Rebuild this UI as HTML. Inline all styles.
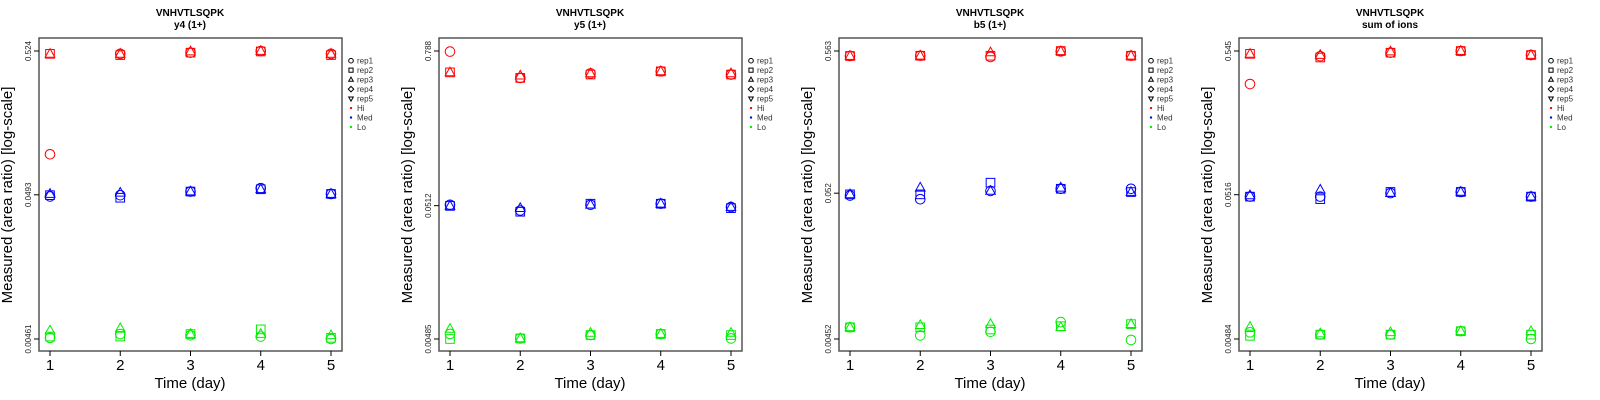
<!DOCTYPE html>
<html><head><meta charset="utf-8">
<style>
html,body{margin:0;padding:0;background:#fff;width:1600px;height:400px;overflow:hidden}
svg{display:block;font-family:"Liberation Sans",sans-serif}
</style></head>
<body>
<svg id="chart" width="1600" height="400" viewBox="0 0 1600 400"></svg>
<script>
const days = [1,2,3,4,5];
const reps = ["rep1","rep2","rep3","rep4","rep5"];
const groups = ["Hi","Med","Lo"];
const titles = ["y4 (1+)","y5 (1+)","b5 (1+)","sum of ions"];
const yTickLabels = [["0.00461","0.0493","0.524"],["0.00485","0.0512","0.788"],["0.00452","0.052","0.563"],["0.00484","0.0516","0.545"]];
const yTicks = [[0.00461,0.0493,0.524],[0.00485,0.0512,0.788],[0.00452,0.052,0.563],[0.00484,0.0516,0.545]];
// values[day][rep] (rep1..rep3)
const p1Hi = [[0.096,0.50,0.50],[0.50,0.49,0.50],[0.51,0.51,0.52],[0.524,0.52,0.524],[0.50,0.49,0.50]];
const p1Med = [[0.048,0.049,0.050],[0.049,0.047,0.051],[0.052,0.052,0.052],[0.055,0.054,0.054],[0.050,0.050,0.050]];
const p1Lo = [[0.0047,0.0048,0.0053],[0.0050,0.0048,0.0055],[0.0049,0.0050,0.0050],[0.0048,0.0054,0.0050],[0.00461,0.0047,0.0049]];
const p2Hi = [[0.78,0.54,0.54],[0.49,0.49,0.51],[0.53,0.52,0.53],[0.55,0.55,0.55],[0.52,0.52,0.53]];
const p2Med = [[0.052,0.051,0.051],[0.047,0.046,0.049],[0.052,0.053,0.052],[0.053,0.053,0.053],[0.050,0.049,0.050]];
const p2Lo = [[0.0053,0.00485,0.0058],[0.0049,0.0049,0.0049],[0.0052,0.0052,0.0054],[0.0053,0.0053,0.0053],[0.0049,0.0052,0.0054]];
const p3Hi = [[0.518,0.518,0.518],[0.52,0.52,0.52],[0.51,0.52,0.55],[0.56,0.563,0.56],[0.52,0.52,0.52]];
const p3Med = [[0.050,0.051,0.051],[0.047,0.051,0.057],[0.054,0.062,0.054],[0.056,0.056,0.057],[0.056,0.053,0.053]];
const p3Lo = [[0.0055,0.0055,0.0055],[0.0048,0.0055,0.0057],[0.0051,0.0053,0.0058],[0.0060,0.0056,0.0055],[0.00445,0.0058,0.0058]];
const p4Hi = [[0.317,0.52,0.52],[0.50,0.49,0.51],[0.53,0.53,0.54],[0.545,0.545,0.545],[0.51,0.51,0.51]];
const p4Med = [[0.050,0.050,0.051],[0.050,0.048,0.056],[0.053,0.054,0.053],[0.054,0.054,0.054],[0.050,0.050,0.050]];
const p4Lo = [[0.0054,0.0051,0.0059],[0.0052,0.0052,0.0053],[0.0052,0.0052,0.0054],[0.0055,0.0055,0.0055],[0.00484,0.0052,0.0055]];
const panelData = [[p1Hi,p1Med,p1Lo],[p2Hi,p2Med,p2Lo],[p3Hi,p3Med,p3Lo],[p4Hi,p4Med,p4Lo]];
const colors = ["#ff0000","#0000ff","#00ee00"];

const NS="http://www.w3.org/2000/svg";
const svg=document.getElementById('chart');
function mk(tag,attrs,parent,text){const e=document.createElementNS(NS,tag);for(const k in attrs)e.setAttribute(k,attrs[k]);if(text!==undefined)e.textContent=text;(parent||svg).appendChild(e);return e;}
function marker(shape,x,y,col,r,g){
  let e;
  if(shape===0) e=mk('circle',{cx:x,cy:y,r:r},g);
  else if(shape===1) e=mk('rect',{x:x-r*0.9,y:y-r*0.9,width:r*1.8,height:r*1.8},g);
  else if(shape===2) e=mk('polygon',{points:`${x},${y-r*1.1} ${x-r},${y+r*0.7} ${x+r},${y+r*0.7}`},g);
  else if(shape===3) e=mk('polygon',{points:`${x},${y-r*1.2} ${x+r*1.2},${y} ${x},${y+r*1.2} ${x-r*1.2},${y}`},g);
  else e=mk('polygon',{points:`${x},${y+r*1.1} ${x-r},${y-r*0.7} ${x+r},${y-r*0.7}`},g);
  e.setAttribute('fill','none');e.setAttribute('stroke',col);e.setAttribute('stroke-width','1');
  return e;
}
panelData.forEach((pd,pi)=>{
  const ox=pi*400;
  const g=mk('g',{transform:`translate(${ox},0)`});
  
  
  const L=39,R=342,T=38,B=351;
  const xs=d=>50+(d-1)*(331-50)/4;
  const lmin=Math.log10(yTicks[pi][0]),lmax=Math.log10(yTicks[pi][2]);
  const ys=v=>339-(Math.log10(v)-lmin)/(lmax-lmin)*(339-51);
  const t1=mk('text',{x:190,y:16,'text-anchor':'middle','font-size':'10','font-weight':'bold'},g,'VNHVTLSQPK');
  
  const t2=mk('text',{x:190,y:28,'text-anchor':'middle','font-size':'10','font-weight':'bold'},g,titles[pi]);
  
  pd.forEach((grp,gi)=>{grp.forEach((dayVals,di)=>{dayVals.forEach((v,ri)=>{
    const m=marker(ri,xs(days[di]),ys(v),colors[gi],4.8,g);
    
    
  });});});
  const box=mk('rect',{x:L,y:T,width:R-L,height:B-T,fill:'none',stroke:'#555','stroke-width':'1.5'},g);
  
  days.forEach(d=>{
    mk('line',{x1:xs(d),x2:xs(d),y1:B,y2:B+5,stroke:'#000'},g);
    const tl=mk('text',{x:xs(d),y:370,'text-anchor':'middle','font-size':'15'},g,String(d));
    
  });
  const xt=mk('text',{x:190,y:388,'text-anchor':'middle','font-size':'15'},g,'Time (day)');
  
  yTicks[pi].forEach((v,i)=>{
    const y=ys(v);
    mk('line',{x1:L-5,x2:L,y1:y,y2:y,stroke:'#000'},g);
    const tl=mk('text',{x:0,y:0,'text-anchor':'middle','font-size':'8',fill:'#222',transform:`translate(31,${y}) rotate(-90)`},g,yTickLabels[pi][i]);
    
  });
  const yt=mk('text',{x:0,y:0,'text-anchor':'middle','font-size':'15',transform:'translate(12,195) rotate(-90)'},g,'Measured (area ratio) [log-scale]');
  
  const lg=mk('g',{},g);
  
  const labels=reps.concat(groups);
  labels.forEach((lab,i)=>{
    const y=60.7+i*9.47;
    if(i<5) marker(i,351,y,'#000',2.3,lg);
    else mk('circle',{cx:351,cy:y,r:1.2,fill:colors[i-5]},lg);
    const t=mk('text',{x:357,y:y+3,'font-size':'8',fill:'#333'},lg,lab);
    
  });
});
</script>
</body></html>
